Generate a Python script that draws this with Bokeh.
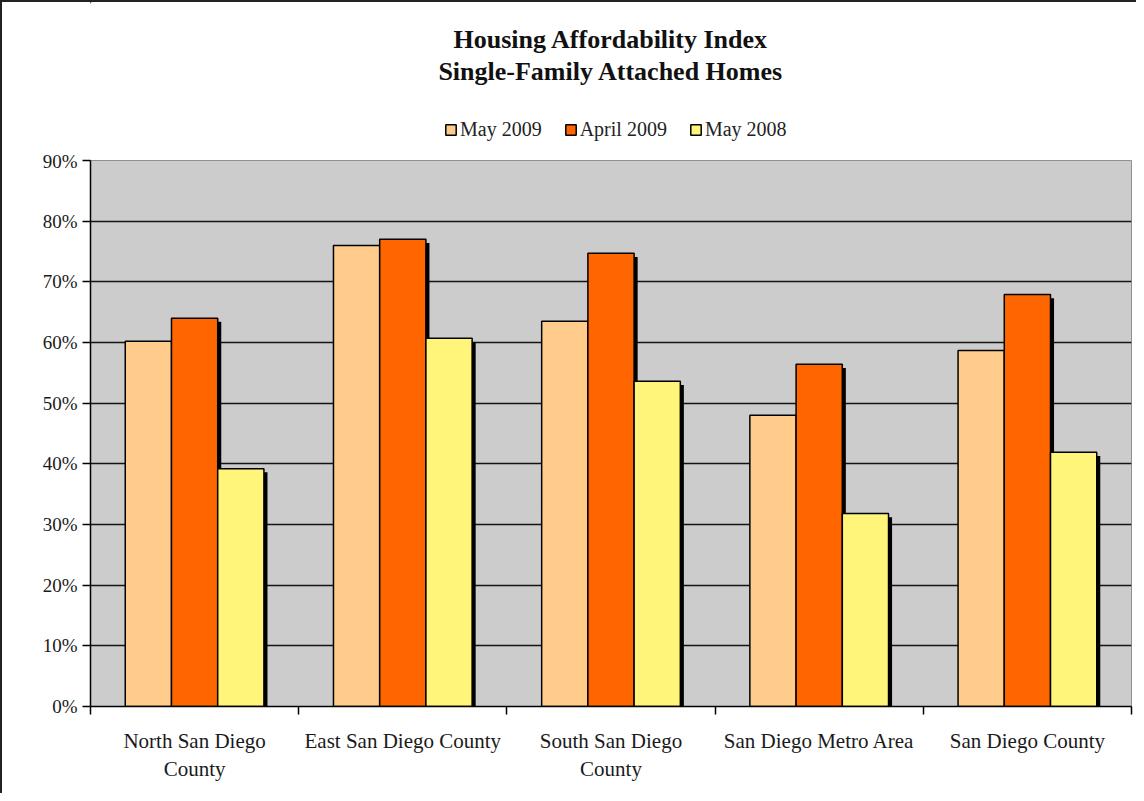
from bokeh.plotting import figure
from bokeh.models import (ColumnDataSource, FixedTicker, LinearAxis, Legend, LegendItem,
                          Range1d)
from bokeh.layouts import column
from bokeh.core.properties import value
from bokeh.embed import file_html
from bokeh.resources import INLINE

title_lines = ["Housing Affordability Index", "Single-Family Attached Homes"]
categories = ["North San Diego\nCounty", "East San Diego County", "South San Diego\nCounty",
              "San Diego Metro Area", "San Diego County"]
series_names = ["May 2009", "April 2009", "May 2008"]
may_2009 = [60.2, 76.0, 63.5, 48.0, 58.7]
april_2009 = [64.0, 77.0, 74.7, 56.4, 67.9]
may_2008 = [39.2, 60.7, 53.6, 31.8, 41.9]
y_ticks = [0, 10, 20, 30, 40, 50, 60, 70, 80, 90]
y_tick_labels = [f"{t}%" for t in y_ticks]

colors = ["#FFCC8C", "#FF6600", "#FFF57A"]
series = [may_2009, april_2009, may_2008]
offsets = [-0.222, 0.0, 0.222]
bar_w = 0.222
FONT = "Liberation Serif"

# ---------- header figure (titles + legend) ----------
top = figure(width=1134, height=148, output_backend="svg", toolbar_location=None,
             x_range=Range1d(0, 1134), y_range=Range1d(148, 0),
             min_border=0, x_axis_location=None, y_axis_location=None)
top.outline_line_color = None
top.grid.visible = False
top.background_fill_color = "white"
top.text(x=[567, 567], y=[37, 69], text=title_lines, text_font=value(FONT),
         text_font_size="26px", text_font_style="bold", text_color="#111111",
         text_align="center", text_baseline="middle")

items = []
for name, col in zip(series_names, colors):
    # off-canvas placeholder renderers, used only to draw the legend swatches
    r = top.vbar(x=[-500], top=[-500], bottom=[-501], width=1,
                 fill_color=col, line_color="black", line_width=1.5)
    items.append(LegendItem(label=name, renderers=[r]))
legend = Legend(items=items, orientation="horizontal", location=(354, 9))
legend.label_text_font = FONT
legend.label_text_font_size = "20px"
legend.label_text_color = "#222222"
legend.glyph_width = 13
legend.glyph_height = 13
legend.label_standoff = 3
legend.spacing = 22
legend.padding = 4
legend.margin = 0
legend.border_line_color = None
legend.background_fill_alpha = 0
top.add_layout(legend, "center")

# ---------- main chart ----------
p = figure(frame_width=1041, frame_height=546, output_backend="svg", toolbar_location=None,
           x_range=Range1d(0, 5), y_range=Range1d(0, 90),
           min_border_left=88, min_border_right=5, min_border_bottom=87, min_border_top=10,
           background_fill_color="#CCCCCC", border_fill_color="white",
           x_axis_location=None, y_axis_location=None)
p.outline_line_color = "#909090"
p.outline_line_width = 1

yax = LinearAxis(ticker=FixedTicker(ticks=y_ticks),
                 major_label_overrides={t: l for t, l in zip(y_ticks, y_tick_labels)})
yax.major_tick_out = 8
yax.major_tick_in = 0
yax.minor_tick_out = 0
yax.minor_tick_in = 0
yax.axis_line_color = "black"
yax.axis_line_width = 1.5
yax.major_tick_line_width = 1.5
yax.major_label_text_font = FONT
yax.major_label_text_font_size = "19px"
yax.major_label_text_color = "#1a1a1a"
yax.major_label_standoff = 5
p.add_layout(yax, "left")

xax = LinearAxis(ticker=FixedTicker(ticks=[0, 1, 2, 3, 4, 5]),
                 major_label_overrides={i: "" for i in range(6)})
xax.major_tick_out = 8
xax.major_tick_in = 0
xax.minor_tick_out = 0
xax.minor_tick_in = 0
xax.axis_line_color = "black"
xax.axis_line_width = 1.5
xax.major_tick_line_width = 1.5
xax.major_label_text_font_size = "1px"
xax.major_label_standoff = 0
p.add_layout(xax, "below")

centers = [i + 0.5 for i in range(len(categories))]
xlab = LinearAxis(ticker=FixedTicker(ticks=centers),
                  major_label_overrides={c: n for c, n in zip(centers, categories)})
xlab.axis_line_color = None
xlab.major_tick_line_color = None
xlab.minor_tick_line_color = None
xlab.major_label_text_font = FONT
xlab.major_label_text_font_size = "21px"
xlab.major_label_text_color = "#1a1a1a"
xlab.major_label_standoff = 8
p.add_layout(xlab, "below")

p.xgrid.visible = False
p.ygrid.ticker = FixedTicker(ticks=y_ticks[1:])
p.ygrid.grid_line_color = "black"
p.ygrid.grid_line_width = 1.5
p.ygrid.grid_line_alpha = 0.9

for vals, off in zip(series, offsets):
    xs = [c + off for c in centers]
    src = ColumnDataSource(dict(xs=[x + 0.017 for x in xs], ts=[v - 0.6 for v in vals]))
    p.vbar(x="xs", top="ts", bottom=0, width=bar_w, source=src,
           fill_color="black", line_color=None)
for vals, col, off in zip(series, colors, offsets):
    xs = [c + off for c in centers]
    src = ColumnDataSource(dict(x=xs, top=vals))
    p.vbar(x="x", top="top", bottom=0, width=bar_w, source=src,
           fill_color=col, line_color="black", line_width=1.5)

layout = column(top, p, spacing=0)
layout.styles = {"border-left": "2px solid #222", "border-top": "2px solid #222"}

open("out.html", "w").write(file_html(layout, INLINE))
